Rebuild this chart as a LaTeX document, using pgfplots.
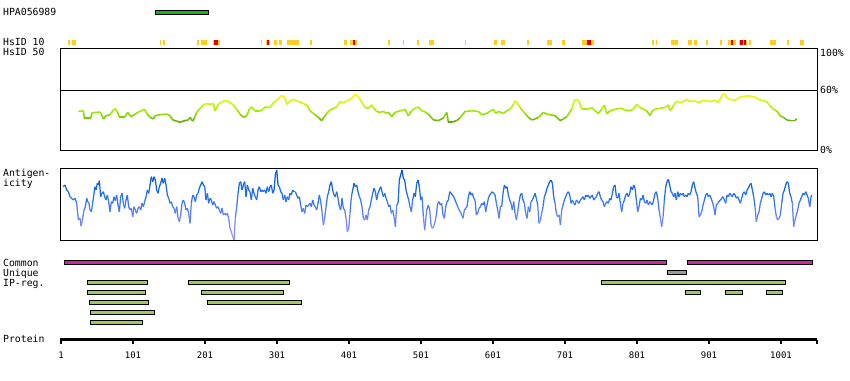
\documentclass[border=0pt]{standalone}
\usepackage{pgfplots}
\pgfplotsset{compat=1.18}
\usepackage{fontspec}
\setmainfont{DejaVu Sans Mono}
\definecolor{hsgold}{RGB}{255,204,34}
\definecolor{hsred}{RGB}{221,0,0}
\definecolor{hpagreen}{RGB}{34,170,34}
\definecolor{commonmag}{RGB}{204,40,160}
\definecolor{uniqgrey}{RGB}{153,153,153}
\definecolor{ipgreen}{RGB}{160,200,96}
\newcommand{\trackbar}[5]{\addplot[fill=#5, draw=black, line width=1pt] coordinates {(#1,#3) (#2,#3) (#2,#4) (#1,#4)} -- cycle;}
\pgfplotsset{trk/.style={scale only axis, width=757pt, xmin=-0.389, xmax=1051, clip=false}}
\begin{document}
\begin{tikzpicture}[font=\fontsize{9.8pt}{11pt}\selectfont]
\useasboundingbox (0,0) rectangle (850pt,-380pt);
% ---------------- tracks (bars) ----------------
\begin{axis}[trk, at={(60pt,0pt)}, anchor=north west, height=380pt, ymin=0, ymax=380, y dir=reverse, hide axis]
\trackbar{132.3}{205.9}{10.5}{14.2}{hpagreen}
\addplot[hsgold, line width=5pt, unbounded coords=jump] coordinates {
(10.7,42.5)(13.5,42.5)(13.5,nan)(16.3,42.5)(21.8,42.5)(21.8,nan)
(138.5,42.5)(139.9,42.5)(139.9,nan)(142.7,42.5)(145.4,42.5)(145.4,nan)
(189.9,42.5)(192.7,42.5)(192.7,nan)(195.4,42.5)(203.8,42.5)(203.8,nan)
(212.1,42.5)(213.5,42.5)(213.5,nan)(219.1,42.5)(221.8,42.5)(221.8,nan)
(278.8,42.5)(280.2,42.5)(280.2,nan)(285.7,42.5)(287.1,42.5)(287.1,nan)
(289.9,42.5)(291.3,42.5)(291.3,nan)(296.8,42.5)(301.0,42.5)(301.0,nan)
(303.8,42.5)(307.9,42.5)(307.9,nan)(314.9,42.5)(331.6,42.5)(331.6,nan)
(346.8,42.5)(349.6,42.5)(349.6,nan)(394.1,42.5)(398.2,42.5)(398.2,nan)
(402.4,42.5)(405.9,42.5)(405.9,nan)(409.3,42.5)(412.1,42.5)(412.1,nan)
(455.2,42.5)(457.9,42.5)(457.9,nan)(476.0,42.5)(477.4,42.5)(477.4,nan)
(495.4,42.5)(498.2,42.5)(498.2,nan)(512.1,42.5)(519.1,42.5)(519.1,nan)
(562.1,42.5)(563.5,42.5)(563.5,nan)(602.4,42.5)(606.6,42.5)(606.6,nan)
(612.1,42.5)(617.7,42.5)(617.7,nan)(648.2,42.5)(651.0,42.5)(651.0,nan)
(676.0,42.5)(682.9,42.5)(682.9,nan)(696.8,42.5)(701.0,42.5)(701.0,nan)
(724.6,42.5)(731.6,42.5)(731.6,nan)(737.1,42.5)(741.3,42.5)(741.3,nan)
(821.8,42.5)(824.6,42.5)(824.6,nan)(827.4,42.5)(828.8,42.5)(828.8,nan)
(848.2,42.5)(857.9,42.5)(857.9,nan)(871.8,42.5)(877.4,42.5)(877.4,nan)
(880.2,42.5)(884.3,42.5)(884.3,nan)(896.8,42.5)(899.6,42.5)(899.6,nan)
(916.3,42.5)(919.1,42.5)(919.1,nan)(927.4,42.5)(931.6,42.5)(931.6,nan)
(934.3,42.5)(938.5,42.5)(938.5,nan)(942.7,42.5)(944.1,42.5)(944.1,nan)
(948.2,42.5)(949.6,42.5)(949.6,nan)(952.4,42.5)(953.8,42.5)(953.8,nan)
(956.6,42.5)(959.3,42.5)(959.3,nan)(985.7,42.5)(994.1,42.5)(994.1,nan)
(1009.4,42.5)(1012.1,42.5)(1012.1,nan)(1027.4,42.5)(1033.0,42.5)
};
\addplot[hsred, line width=5pt, unbounded coords=jump] coordinates {
(213.5,42.5)(219.1,42.5)(219.1,nan)(287.1,42.5)(289.9,42.5)(289.9,nan)
(405.9,42.5)(409.3,42.5)(409.3,nan)(731.6,42.5)(737.1,42.5)(737.1,nan)
(931.6,42.5)(934.3,42.5)(934.3,nan)(944.1,42.5)(948.2,42.5)(948.2,nan)
(949.6,42.5)(952.4,42.5)
};
% Common
\trackbar{5.9}{842.4}{260.5}{264.2}{commonmag}
\trackbar{871.6}{1045.2}{260.5}{264.2}{commonmag}
% Unique
\trackbar{843.8}{869.3}{270.5}{274.2}{uniqgrey}
% IP-reg
\trackbar{38.2}{121.6}{280.5}{284.2}{ipgreen}
\trackbar{178.5}{318.8}{280.5}{284.2}{ipgreen}
\trackbar{752.1}{1007.7}{280.5}{284.2}{ipgreen}
\trackbar{38.2}{118.8}{290.5}{294.2}{ipgreen}
\trackbar{196.6}{310.4}{290.5}{294.2}{ipgreen}
\trackbar{868.8}{888.8}{290.5}{294.2}{ipgreen}
\trackbar{924.3}{947.1}{290.5}{294.2}{ipgreen}
\trackbar{981.3}{1003.5}{290.5}{294.2}{ipgreen}
\trackbar{41.0}{122.9}{300.5}{304.2}{ipgreen}
\trackbar{204.9}{335.4}{300.5}{304.2}{ipgreen}
\trackbar{42.4}{131.3}{310.5}{314.2}{ipgreen}
\trackbar{42.4}{113.8}{320.5}{324.2}{ipgreen}
\end{axis}
% ---------------- HsID 50 conservation ----------------
\begin{axis}[trk, at={(60pt,-48pt)}, anchor=north west, height=102pt, ymin=0, ymax=102,
  xtick=\empty, ytick={60}, yticklabels={}, ymajorgrids, grid style={black, line width=1pt},
  major tick length=0pt, axis line style={line width=1pt},
  colormap={cons}{rgb255=(85,165,20) rgb255=(150,230,0) rgb255=(205,250,0) rgb255=(255,245,20)},
  point meta min=27, point meta max=57]
\addplot[mesh, point meta=y, line width=1.6pt] coordinates {
(25.1,38.6)(32.0,39.2)(33.4,32.0)(42.2,32.0)(44.1,37.3)(55.2,37.9)(57.5,35.3)(59.8,31.0)
(63.5,34.3)(69.1,35.3)(73.7,39.9)(76.0,41.5)(79.3,38.2)(82.0,33.3)(89.9,33.3)(93.6,37.6)
(98.2,33.3)(102.9,35.3)(108.4,37.9)(114.4,39.9)(116.8,40.8)(120.0,36.6)(124.6,32.7)(129.3,31.0)
(131.6,34.3)(138.5,35.3)(147.8,35.9)(152.4,34.3)(156.1,30.1)(161.7,28.8)(166.3,27.8)(173.2,29.4)
(177.9,30.1)(180.2,32.7)(183.9,28.8)(186.2,32.0)(189.4,37.6)(194.1,41.5)(198.7,45.1)(203.3,46.4)
(208.0,45.7)(212.6,46.4)(214.9,39.2)(219.5,45.7)(224.2,48.0)(230.2,49.7)(235.7,47.4)(240.4,45.1)
(245.0,40.8)(249.6,35.9)(254.3,32.7)(258.9,34.3)(262.6,40.8)(265.8,43.1)(270.5,39.2)(277.4,39.2)
(282.0,40.8)(284.4,43.1)(291.3,42.5)(295.9,47.4)(300.6,49.7)(305.2,52.9)(307.5,54.6)(312.1,52.3)
(314.4,45.7)(319.1,49.0)(323.7,50.6)(328.3,49.0)(333.0,48.0)(337.6,46.4)(342.2,45.1)(346.9,39.2)
(353.8,35.3)(358.4,32.7)(363.1,29.4)(365.4,32.0)(370.0,36.6)(374.6,39.9)(379.3,41.5)(383.9,43.1)
(388.5,48.4)(393.2,47.1)(397.8,49.0)(404.7,51.6)(409.4,55.6)(411.7,54.9)(416.3,50.6)(423.2,42.5)
(427.9,41.8)(432.5,45.1)(434.8,42.5)(439.4,38.6)(444.1,37.6)(448.7,38.6)(453.3,36.6)(455.7,37.9)
(460.3,33.3)(464.9,37.6)(471.9,39.2)(476.5,39.9)(478.8,40.8)(483.4,34.3)(488.1,39.2)(492.7,41.8)
(497.3,43.1)(501.9,39.2)(506.6,38.2)(511.2,35.9)(518.2,30.1)(525.1,29.4)(532.1,32.0)(536.7,37.6)
(539.0,27.8)(543.6,27.8)(550.6,29.4)(555.2,32.0)(562.2,38.6)(571.4,39.2)(580.7,38.6)(585.3,35.3)
(589.9,35.9)(596.9,38.6)(601.5,40.8)(604.7,36.6)(608.5,38.6)(615.4,36.6)(620.0,39.2)(624.7,40.8)
(629.3,45.7)(631.6,49.0)(633.9,48.0)(638.5,42.5)(645.5,36.6)(650.1,32.7)(654.7,30.1)(659.4,31.0)
(664.0,32.7)(670.9,37.6)(675.6,35.9)(680.2,35.3)(687.2,34.3)(694.1,29.4)(698.7,31.0)(703.4,33.3)
(710.3,40.8)(714.0,49.7)(717.3,50.6)(720.5,48.4)(724.2,40.8)(728.8,40.8)(733.4,40.8)(738.1,42.5)
(742.7,39.2)(747.3,36.6)(752.0,40.8)(755.7,45.1)(758.9,35.9)(763.5,39.2)(770.5,40.8)(779.7,41.8)
(784.4,39.9)(791.3,39.2)(795.9,40.8)(800.6,45.7)(805.2,42.5)(809.8,40.8)(814.5,39.2)(819.1,34.3)
(822.3,39.2)(826.0,40.8)(839.9,42.5)(844.6,45.1)(846.9,39.2)(851.5,44.1)(856.1,49.0)(860.8,47.4)
(865.4,48.4)(870.0,50.6)(874.7,48.4)(881.6,49.0)(886.2,47.4)(893.2,49.7)(899.2,49.0)(902.4,48.4)
(909.4,49.7)(914.0,47.4)(920.0,55.6)(923.3,56.2)(925.6,52.3)(930.2,50.6)(937.2,49.7)(944.1,52.9)
(951.0,53.9)(958.0,53.9)(964.9,52.9)(969.6,50.6)(974.2,49.7)(981.1,48.4)(985.8,44.1)(990.4,40.8)
(995.0,39.2)(999.7,34.3)(1004.3,32.7)(1008.9,30.1)(1013.5,29.4)(1020.5,29.4)(1022.8,31.3)
};
\end{axis}
% ---------------- Antigenicity ----------------
\begin{axis}[trk, at={(60pt,-168pt)}, anchor=north west, height=72pt, ymin=0, ymax=72,
  xtick=\empty, ytick=\empty, axis line style={line width=1pt},
  colormap={anti}{rgb255=(165,150,255) rgb255=(100,130,250) rgb255=(30,110,235) rgb255=(0,80,200)},
  point meta min=0, point meta max=70]
\addplot[mesh, point meta=y, line width=1.25pt] coordinates {
(4.3,53.3)(6.6,55.0)(8.9,50.0)(11.2,48.3)(13.5,43.3)(15.8,41.7)(18.2,40.0)(20.5,41.7)(22.8,36.7)
(25.1,20.0)(27.4,21.7)(28.8,14.0)(30.7,20.0)(33.0,30.0)(34.8,33.3)(36.7,41.7)(38.1,38.3)(39.9,36.7)
(41.3,30.0)(43.2,28.3)(45.0,36.7)(46.9,46.7)(48.2,53.3)(49.6,50.0)(51.5,56.7)(52.9,55.0)(54.3,59.3)
(56.1,43.3)(58.0,46.7)(59.8,48.3)(61.7,43.3)(63.5,40.0)(65.4,45.0)(67.2,38.3)(69.1,28.3)(70.9,38.3)
(72.8,36.7)(74.6,43.3)(76.5,39.3)(78.3,45.0)(80.2,35.0)(82.0,28.3)(83.9,43.3)(85.7,46.7)(87.6,36.7)
(89.4,31.7)(91.3,40.0)(93.1,45.0)(95.0,33.3)(96.9,30.0)(98.7,31.7)(100.6,23.3)(102.4,33.3)(104.3,30.0)
(106.1,26.7)(108.0,31.7)(109.8,33.3)(111.7,30.0)(113.5,36.7)(115.4,33.3)(117.2,38.3)(119.1,43.3)
(120.9,50.0)(122.8,46.7)(124.6,55.0)(126.5,63.3)(128.3,58.3)(130.2,63.3)(132.0,60.0)(133.9,50.0)
(135.7,46.7)(137.6,53.3)(139.4,56.7)(141.3,61.7)(143.1,56.7)(145.0,61.7)(146.9,55.0)(148.7,45.0)
(150.6,41.7)(152.4,36.7)(154.3,38.3)(156.1,33.3)(158.0,31.7)(159.8,26.7)(161.7,33.3)(163.5,21.7)
(165.4,18.3)(167.2,25.0)(169.1,36.7)(170.9,40.0)(172.8,36.7)(174.6,30.0)(176.5,31.7)(178.3,26.7)
(180.2,16.7)(182.0,36.7)(183.9,45.0)(185.7,43.3)(187.6,38.3)(189.4,45.0)(191.3,46.7)(193.1,51.7)
(195.0,55.0)(196.9,58.3)(198.7,55.0)(200.6,53.3)(202.4,40.0)(204.3,46.7)(206.1,36.7)(208.0,41.7)
(209.8,40.0)(211.7,35.0)(213.5,38.3)(215.4,35.0)(217.2,31.7)(219.1,33.3)(220.9,30.0)(222.8,26.7)
(224.6,31.7)(226.5,25.0)(228.3,26.7)(230.2,25.0)(232.0,26.7)(233.9,21.7)(235.7,11.7)(237.6,8.3)
(239.4,3.3)(241.3,0.0)(243.1,21.7)(245.0,33.3)(246.9,46.7)(248.7,56.7)(250.6,58.3)(252.4,50.0)
(254.3,55.0)(256.1,58.3)(258.0,43.3)(259.8,55.0)(261.7,50.0)(263.5,48.3)(265.4,40.0)(267.2,51.7)
(269.1,46.7)(270.9,43.3)(272.8,40.0)(274.6,50.0)(276.5,53.3)(278.3,48.3)(280.2,50.0)(282.0,48.3)
(283.9,50.0)(285.7,46.7)(287.6,53.3)(289.4,48.3)(291.3,53.3)(293.1,55.0)(295.0,46.7)(296.9,50.0)
(298.7,65.0)(300.6,70.0)(302.4,55.0)(304.3,53.3)(306.1,48.3)(308.0,46.7)(309.8,40.0)(311.7,45.0)
(313.5,38.3)(315.4,43.3)(317.2,40.0)(319.1,46.7)(320.9,45.0)(322.8,50.0)(324.6,48.3)(326.5,48.3)
(328.3,45.0)(330.2,41.7)(332.0,43.3)(333.9,35.0)(335.7,28.3)(337.6,31.7)(339.4,26.7)(341.3,35.0)
(343.1,33.3)(345.0,35.0)(346.9,36.7)(348.7,33.3)(350.6,40.0)(352.4,35.0)(354.3,33.3)(356.1,30.0)
(358.0,36.7)(359.8,45.0)(361.7,38.3)(363.5,28.3)(365.4,15.0)(367.2,21.7)(369.1,33.3)(370.9,43.3)
(372.8,48.3)(374.6,55.0)(376.5,58.3)(378.3,50.0)(380.2,45.0)(382.0,43.3)(383.9,48.3)(385.7,41.7)
(387.6,33.3)(389.4,30.0)(391.3,41.7)(393.1,31.7)(395.0,30.0)(396.9,21.7)(398.7,8.3)(400.6,11.7)
(402.4,26.7)(404.3,43.3)(406.1,50.0)(408.0,56.7)(409.8,53.3)(411.7,55.0)(413.5,48.3)(415.4,43.3)
(417.2,40.0)(419.1,33.3)(420.9,21.7)(422.8,20.0)(424.6,25.0)(426.5,20.0)(428.3,30.0)(430.2,33.3)
(432.0,40.0)(433.9,46.7)(435.7,51.7)(437.6,48.3)(439.4,40.0)(441.3,46.7)(443.1,50.0)(445.0,53.3)
(446.9,48.3)(448.7,43.3)(450.6,46.7)(452.4,41.7)(454.3,38.3)(456.1,33.3)(458.0,35.0)(459.8,26.7)
(461.7,30.0)(463.5,23.3)(465.4,13.3)(467.2,35.0)(469.1,36.7)(470.9,60.0)(472.8,65.0)(474.6,70.0)
(476.5,61.7)(478.3,60.0)(480.2,50.0)(482.0,45.0)(483.9,40.0)(485.7,33.3)(487.6,28.3)(489.4,40.0)
(491.3,46.7)(493.1,43.3)(495.0,56.7)(496.9,60.0)(498.7,53.3)(500.6,40.0)(502.4,43.3)(504.3,23.3)
(506.1,10.0)(508.9,30.0)(511.2,35.0)(513.1,30.0)(514.9,15.0)(516.8,11.7)(518.6,13.3)(520.5,18.3)
(522.3,25.0)(524.2,36.7)(526.0,38.3)(527.9,35.0)(529.7,36.7)(531.6,25.0)(533.5,21.7)(535.3,33.3)
(537.2,38.3)(539.0,40.0)(540.9,48.3)(542.7,46.7)(544.6,45.0)(546.4,43.3)(548.3,40.0)(550.1,36.7)
(552.0,33.3)(553.8,30.0)(555.7,28.3)(557.5,25.0)(559.4,21.7)(561.2,30.0)(563.1,31.7)(564.9,33.3)
(566.8,43.3)(568.6,48.3)(570.5,45.0)(572.3,46.7)(574.2,41.7)(576.0,40.0)(577.9,25.0)(579.7,26.7)
(581.6,31.7)(583.5,33.3)(585.3,36.7)(587.2,35.0)(589.0,38.3)(590.9,28.3)(592.7,35.0)(594.6,41.7)
(596.4,45.0)(598.3,46.7)(600.1,48.3)(602.0,46.7)(603.8,45.0)(605.7,36.7)(607.5,30.0)(609.4,21.7)
(611.2,33.3)(613.1,33.3)(614.9,46.7)(616.8,55.0)(618.6,51.7)(620.5,53.3)(622.3,45.0)(624.2,40.0)
(626.0,36.7)(627.9,30.0)(629.7,38.3)(631.6,26.7)(633.5,20.0)(635.3,28.3)(637.2,38.3)(639.0,45.0)
(640.9,46.7)(642.7,40.0)(644.6,36.7)(646.4,26.7)(648.3,21.7)(650.1,33.3)(652.0,28.3)(653.8,38.3)
(655.7,40.0)(657.5,43.3)(659.4,46.7)(661.2,41.7)(663.1,35.0)(664.9,16.7)(666.8,20.0)(668.6,26.7)
(670.5,33.3)(672.3,43.3)(674.2,46.7)(676.0,51.7)(677.9,55.0)(679.7,58.3)(681.6,60.0)(683.5,56.7)
(685.3,43.3)(687.2,36.7)(689.0,26.7)(690.9,23.3)(692.7,25.0)(694.6,15.0)(696.4,30.0)(698.3,35.0)
(700.1,40.0)(702.0,43.3)(703.8,46.7)(705.7,48.3)(707.5,45.0)(709.4,36.7)(711.2,40.0)(713.1,36.7)
(714.9,35.0)(716.8,40.0)(718.6,38.3)(720.5,36.7)(722.3,40.0)(724.2,41.7)(726.0,43.3)(727.9,40.0)
(729.7,45.0)(731.6,43.3)(733.5,45.0)(735.3,41.7)(737.2,43.3)(739.0,45.0)(740.9,40.0)(742.7,41.7)
(744.6,43.3)(746.4,46.7)(748.3,48.3)(750.1,43.3)(752.0,40.0)(753.8,38.3)(755.7,33.3)(757.5,36.7)
(759.4,38.3)(761.2,36.7)(763.1,41.7)(764.9,40.0)(766.8,46.7)(768.6,53.3)(770.5,55.0)(772.3,43.3)
(774.2,41.7)(776.0,46.7)(777.9,36.7)(779.7,28.3)(781.6,36.7)(783.5,40.0)(785.3,45.0)(787.2,46.7)
(789.0,43.3)(790.9,46.7)(792.7,53.3)(794.6,50.0)(796.4,55.0)(798.3,51.7)(800.1,40.0)(802.0,28.3)
(803.8,33.3)(805.7,41.7)(807.5,40.0)(809.4,45.0)(811.2,38.3)(813.1,36.7)(814.9,40.0)(816.8,35.0)
(818.6,38.3)(820.5,36.7)(822.3,35.0)(824.2,40.0)(826.0,46.7)(827.9,48.3)(829.7,41.7)(831.6,30.0)
(833.5,21.7)(835.3,13.3)(837.2,23.3)(839.0,40.0)(840.9,53.3)(842.7,58.3)(844.6,60.7)(846.4,55.0)
(848.3,48.3)(850.1,46.7)(852.0,43.3)(853.8,46.7)(855.7,40.0)(857.5,48.3)(859.4,43.3)(861.2,46.7)
(863.1,45.0)(864.9,46.7)(866.8,43.3)(868.6,45.0)(870.5,43.3)(872.3,46.7)(874.2,45.0)(876.0,48.3)
(877.9,55.0)(879.7,58.3)(881.6,51.7)(883.5,46.7)(885.3,43.3)(887.2,23.3)(889.0,25.0)(890.9,28.3)
(892.7,35.0)(894.6,40.0)(896.4,45.0)(898.3,46.7)(900.1,43.3)(902.0,45.0)(903.8,41.7)(905.7,38.3)
(907.5,33.3)(909.4,25.0)(911.2,35.0)(913.1,36.7)(914.9,38.3)(916.8,40.0)(918.6,41.7)(920.5,43.3)
(922.3,40.0)(924.2,36.7)(926.0,45.0)(927.9,43.3)(929.7,46.7)(931.6,45.0)(933.5,43.3)(935.3,46.7)
(937.2,45.0)(939.0,41.7)(940.9,43.3)(942.7,40.0)(944.6,36.7)(946.4,41.7)(948.3,46.7)(950.1,48.3)
(952.0,45.0)(953.8,50.0)(955.7,51.7)(957.5,55.0)(959.4,56.7)(961.2,50.0)(963.1,43.3)(964.9,33.3)
(966.8,18.3)(968.6,25.0)(970.5,28.3)(972.3,36.7)(974.2,41.7)(976.0,46.7)(977.9,48.3)(979.7,45.0)
(981.6,46.7)(983.5,45.0)(985.3,46.7)(987.2,43.3)(989.0,46.7)(990.9,43.3)(992.7,31.7)(994.6,23.3)
(996.4,20.0)(998.3,21.7)(1000.1,25.0)(1002.0,36.7)(1003.8,46.7)(1005.7,50.0)(1007.5,55.0)(1009.4,58.3)
(1011.2,56.7)(1013.1,46.7)(1014.9,43.3)(1016.8,36.7)(1018.6,13.3)(1020.5,20.0)(1022.3,25.0)(1024.2,30.0)
(1026.0,36.7)(1027.9,40.0)(1029.7,43.3)(1031.6,46.7)(1033.5,45.0)(1035.3,48.3)(1037.2,45.0)(1039.0,41.7)
(1040.9,33.3)(1042.7,43.3)(1043.6,45.0)
};
\end{axis}
% ---------------- Protein ruler ----------------
\begin{axis}[trk, at={(60pt,-339.5pt)}, anchor=south west, height=1pt, ymin=0, ymax=1,
  axis x line*=bottom, axis y line=none, x axis line style={-, line width=3pt},
  xtick={1,101,201,301,401,501,601,701,801,901,1001},
  xticklabels={1,101,201,301,401,501,601,701,801,901,1001},
  extra x ticks={1051}, extra x tick labels={},
  tick align=outside, major tick length=4.5pt, tick style={black, line width=2pt},
  xticklabel style={anchor=base, yshift=-14.5pt, inner sep=0pt, font=\fontsize{9pt}{10pt}\selectfont}]
\end{axis}
% ---------------- labels ----------------
\node[anchor=base west, inner sep=0pt] at (3pt,-15.5pt) {HPA056989};
\node[anchor=base west, inner sep=0pt] at (3pt,-45.5pt) {HsID 10};
\node[anchor=base west, inner sep=0pt] at (3pt,-55.5pt) {HsID 50};
\node[anchor=base west, inner sep=0pt] at (3pt,-176.5pt) {Antigen-};
\node[anchor=base west, inner sep=0pt] at (3pt,-186.5pt) {icity};
\node[anchor=base west, inner sep=0pt] at (3pt,-266pt) {Common};
\node[anchor=base west, inner sep=0pt] at (3pt,-276pt) {Unique};
\node[anchor=base west, inner sep=0pt] at (3pt,-286pt) {IP-reg.};
\node[anchor=base west, inner sep=0pt] at (3pt,-342.7pt) {Protein};
\node[anchor=base west, inner sep=0pt] at (820pt,-56pt) {100\%};
\node[anchor=base west, inner sep=0pt] at (820pt,-93.7pt) {60\%};
\node[anchor=base west, inner sep=0pt] at (820pt,-153.3pt) {0\%};
\end{tikzpicture}
\end{document}
